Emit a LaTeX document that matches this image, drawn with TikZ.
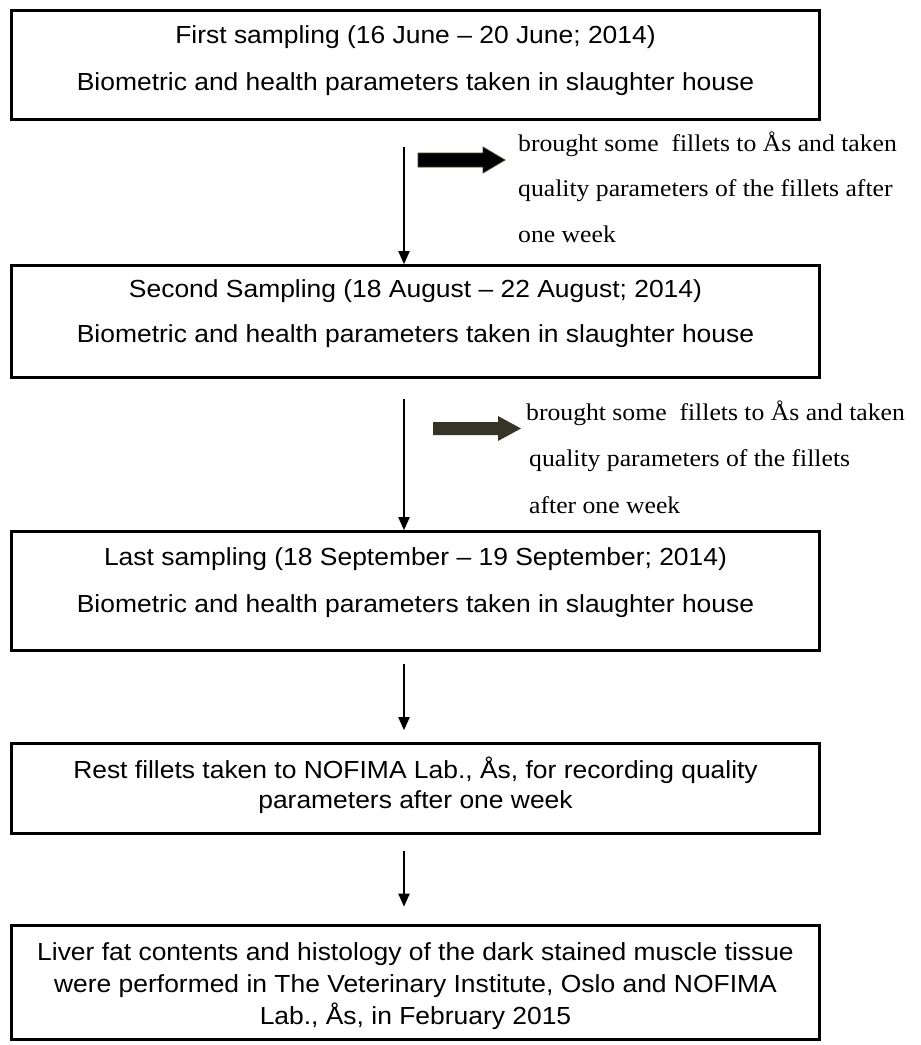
\documentclass[tikz,border=0pt]{standalone}
\usepackage{fontspec}
\setmainfont[FakeStretch=1.07]{Liberation Sans}
\newfontfamily\notefont[FakeStretch=1.07]{Liberation Serif}
\usetikzlibrary{arrows.meta}
\definecolor{olivedark}{RGB}{54,52,38}
\definecolor{oliverim}{RGB}{72,66,40}
\tikzset{
  stage/.style={draw, line width=2.6pt, minimum width=808pt, inner sep=0pt},
  stagetext/.style={align=center, anchor=base, inner sep=0pt,
    font=\fontsize{24.7}{#1}\selectfont},
  stagetext/.default=47,
  note/.style={align=left, anchor=base west, inner sep=0pt,
    font=\notefont\fontsize{24}{#1}\selectfont},
  note/.default=45.5,
  flow/.style={line width=1.8pt, -{Triangle[length=13pt,width=11pt]}},
}
\begin{document}
\begin{tikzpicture}[x=1pt,y=-1pt]
  \useasboundingbox (0,0) rectangle (921,1045);
  % boxes
  \node[stage, minimum height=109pt] (s1) at (415.5,65) {};
  \node[stage, minimum height=112pt] (s2) at (415.5,321.5) {};
  \node[stage, minimum height=119pt] (s3) at (415.5,591) {};
  \node[stage, minimum height=90pt] (s4) at (415.5,788.5) {};
  \node[stage, minimum height=114pt] (s5) at (415.5,982.5) {};
  % box texts (placed on the baseline of their last line)
  \node[stagetext] (t1) at (415.5,90) {First sampling (16 June – 20 June; 2014)\\Biometric and health parameters taken in slaughter house};
  \node[stagetext=45] (t2) at (415.5,342) {Second Sampling (18 August – 22 August; 2014)\\Biometric and health parameters taken in slaughter house};
  \node[stagetext] (t3) at (415.5,612) {Last sampling (18 September – 19 September; 2014)\\Biometric and health parameters taken in slaughter house};
  \node[stagetext=30] (t4) at (415.5,808) {Rest fillets taken to NOFIMA Lab., Ås, for recording quality\\parameters after one week};
  \node[stagetext=32] (t5) at (415.5,1024) {Liver fat contents and histology of the dark stained muscle tissue\\were performed in The Veterinary Institute, Oslo and NOFIMA\\Lab., Ås, in February 2015};
  % side notes
  \node[note] (n1) at (518,242) {brought some\ \ fillets to Ås and taken\\quality parameters of the fillets after\\one week};
  \node[note=46.5] (n2) at (526,513) {brought some\ \ fillets to Ås and taken\\\hspace*{3pt}quality parameters of the fillets\\\hspace*{3pt}after one week};
  % block arrows
  \filldraw[fill=black, draw=oliverim, line width=0.8pt] (418,153) -- (483,153) -- (483,147) -- (505,160) -- (483,173) -- (483,167) -- (418,167) -- cycle;
  \fill[olivedark] (433,422) -- (498,422) -- (498,416) -- (521,428.5) -- (498,441) -- (498,435) -- (433,435) -- cycle;
  % flow
  \draw[flow] ([xshift=-11.5pt,yshift=-26pt]s1.south) -- ([xshift=-11.5pt]s2.north);
  \draw[flow] ([xshift=-11.5pt,yshift=-20pt]s2.south) -- ([xshift=-11.5pt]s3.north);
  \draw[flow] ([xshift=-11.5pt,yshift=-12.5pt]s3.south) -- ([xshift=-11.5pt,yshift=12pt]s4.north);
  \draw[flow] ([xshift=-11.5pt,yshift=-16.5pt]s4.south) -- ([xshift=-11.5pt,yshift=17.5pt]s5.north);
\end{tikzpicture}
\end{document}
